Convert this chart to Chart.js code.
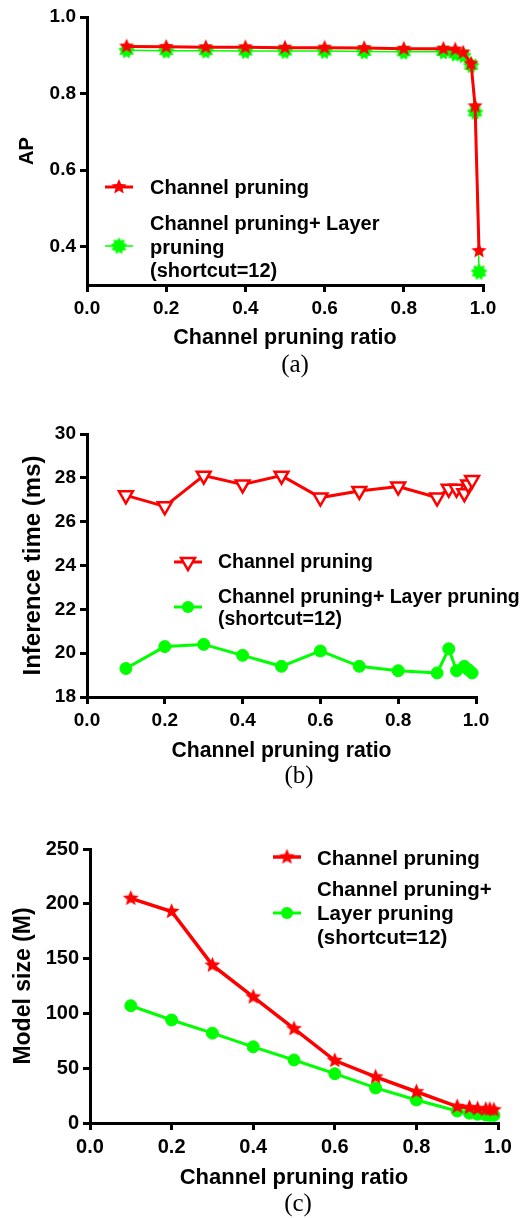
<!DOCTYPE html>
<html><head><meta charset="utf-8">
<script src="https://cdn.jsdelivr.net/npm/chart.js@4"></script>
<style>
html,body{margin:0;padding:0;background:#fff;}
#wrap{position:relative;width:529px;height:1218px;overflow:hidden;background:#fff;}
canvas.ch{position:absolute;left:0;}
canvas.lg{position:absolute;}
.t{position:absolute;font-family:'Liberation Sans',Arial,sans-serif;font-weight:bold;color:#000;white-space:nowrap;}
.cap{position:absolute;font-family:'Liberation Serif','Times New Roman',serif;color:#000;font-size:25px;line-height:25px;white-space:nowrap;transform:translateX(-50%);}
</style></head>
<body><div id="wrap"></div>
<script>
// ---- data ----
const ratios = [0.1,0.2,0.3,0.4,0.5,0.6,0.7,0.8,0.9,0.93,0.95,0.97,0.98,0.99];
const apChannel = [0.923,0.922,0.921,0.921,0.920,0.920,0.919,0.917,0.917,0.915,0.907,0.878,0.767,0.389];
const apLayer   = [0.913,0.912,0.912,0.911,0.911,0.911,0.910,0.909,0.910,0.904,0.900,0.874,0.752,0.334];
const timeChannel = [27.2,26.7,28.1,27.7,28.1,27.1,27.4,27.6,27.1,27.5,27.5,27.3,27.7,27.9];
const timeLayer   = [19.3,20.3,20.4,19.9,19.4,20.1,19.4,19.2,19.1,20.2,19.2,19.4,19.25,19.1];
const sizeChannel = [205,193,144,115,86,57,42,28.5,15,14,13,12.5,12.5,12];
const sizeLayer   = [107,94,82,69.5,57.5,45,32,21,11,9,8,7.3,7,7];
const ratioTicks = [0,0.2,0.4,0.6,0.8,1.0];
const apTicks = [0.4,0.6,0.8,1.0];
const timeTicks = [18,20,22,24,26,28,30];
const sizeTicks = [0,50,100,150,200,250];
const seriesNames = ['Channel pruning','Channel pruning+ Layer pruning (shortcut=12)'];
const xTitle = 'Channel pruning ratio';

const RED = '#ff0000', GREEN = '#00ff00';
const FONT = "'Liberation Sans', Arial, sans-serif";
const wrap = document.getElementById('wrap');

function starImg(color, R, r, n) {
  const c = document.createElement('canvas');
  const s = Math.ceil(2 * R + 2); c.width = s; c.height = s;
  const g = c.getContext('2d');
  g.fillStyle = color; g.beginPath();
  for (let i = 0; i < 2 * n; i++) {
    const rad = (i % 2) ? r : R;
    const a = -Math.PI / 2 + i * Math.PI / n;
    const px = s / 2 + rad * Math.cos(a), py = s / 2 + rad * Math.sin(a);
    if (i) g.lineTo(px, py); else g.moveTo(px, py);
  }
  g.closePath(); g.fill();
  return c;
}
const redStar = starImg(RED, 8, 3.6, 5);
const greenBurst = starImg(GREEN, 8.5, 5.8, 9);
const redStarC = starImg(RED, 8.3, 3.7, 5);

function pts(ys) { return ratios.map((x, i) => ({x: x, y: ys[i]})); }

function makeChart(cfg) {
  const cv = document.createElement('canvas');
  cv.className = 'ch';
  cv.width = 529; cv.height = cfg.height;
  cv.style.top = cfg.top + 'px';
  cv.style.width = '529px'; cv.style.height = cfg.height + 'px';
  wrap.appendChild(cv);
  const A = cfg.area;
  const axisCommon = {
    border: {display: true, color: '#000', width: 3},
    grid: {display: true, drawOnChartArea: false, drawTicks: true, tickLength: 7, tickWidth: 3, tickColor: '#000', color: '#000', lineWidth: 3}
  };
  new Chart(cv, {
    type: 'line',
    data: {datasets: cfg.datasets},
    options: {
      responsive: false, animation: false, devicePixelRatio: 1,
      layout: {padding: {left: 0, top: A.top - cfg.top, right: 529 - A.right, bottom: 0}},
      plugins: {legend: {display: false}, tooltip: {enabled: false}, title: {display: false}},
      elements: {line: {tension: 0}},
      scales: {
        x: Object.assign({}, axisCommon, {
          type: 'linear', min: 0, max: 1,
          afterBuildTicks: s => { s.ticks = ratioTicks.map(v => ({value: v})); },
          afterFit: s => { s.height = (cfg.top + cfg.height) - A.bottom; },
          ticks: {color: '#000', padding: 5, autoSkip: false, maxRotation: 0,
                  font: {family: FONT, weight: 'bold', size: cfg.tickSize},
                  callback: v => Number(v).toFixed(1)},
          title: {display: true, text: xTitle, color: '#000', padding: {top: 0, bottom: 0},
                  font: {family: FONT, weight: 'bold', size: cfg.xTitleSize}}
        }),
        y: Object.assign({}, axisCommon, {
          type: 'linear', min: cfg.yMin, max: cfg.yMax,
          afterBuildTicks: s => { s.ticks = cfg.yTicks.map(v => ({value: v})); },
          afterFit: s => { s.width = A.left; },
          ticks: {color: '#000', padding: 4, autoSkip: false,
                  font: {family: FONT, weight: 'bold', size: cfg.tickSize},
                  callback: cfg.yFmt},
          title: {display: true, text: cfg.yTitle, color: '#000', padding: {top: cfg.yTitlePad, bottom: 0},
                  font: {family: FONT, weight: 'bold', size: cfg.yTitleSize}}
        })
      }
    }
  });
}

// (a) AP
makeChart({
  top: 0, height: 351, area: {left: 87, top: 17, right: 483, bottom: 285},
  yMin: 0.3, yMax: 1.0, yTicks: apTicks, yFmt: v => Number(v).toFixed(1),
  yTitle: 'AP', yTitleSize: 20, yTitlePad: 15, xTitleSize: 21.5, tickSize: 19,
  datasets: [
    {label: seriesNames[0], data: pts(apChannel), borderColor: RED, borderWidth: 3, pointStyle: redStar, pointRadius: 7, clip: false},
    {label: seriesNames[1], data: pts(apLayer), borderColor: GREEN, borderWidth: 1.5, pointStyle: greenBurst, pointRadius: 7, clip: false}
  ]
});

// (b) Inference time
makeChart({
  top: 400, height: 364, area: {left: 87, top: 434, right: 476, bottom: 697},
  yMin: 18, yMax: 30, yTicks: timeTicks, yFmt: v => String(v),
  yTitle: 'Inference time (ms)', yTitleSize: 24, yTitlePad: 18.5, xTitleSize: 21.2, tickSize: 19,
  datasets: [
    {label: seriesNames[0], data: pts(timeChannel), borderColor: RED, borderWidth: 3, pointStyle: 'triangle', rotation: 180,
     pointRadius: 8, pointBorderWidth: 2.5, pointBorderColor: RED, pointBackgroundColor: '#fff', clip: false},
    {label: seriesNames[1], data: pts(timeLayer), borderColor: GREEN, borderWidth: 3, pointStyle: 'circle',
     pointRadius: 6, pointBorderWidth: 1, pointBorderColor: GREEN, pointBackgroundColor: GREEN, clip: false}
  ]
});

// (c) Model size
makeChart({
  top: 818, height: 373, area: {left: 90, top: 849, right: 498, bottom: 1123},
  yMin: 0, yMax: 250, yTicks: sizeTicks, yFmt: v => String(v),
  yTitle: 'Model size (M)', yTitleSize: 23, yTitlePad: 10, xTitleSize: 22, tickSize: 20,
  datasets: [
    {label: seriesNames[0], data: pts(sizeChannel), borderColor: RED, borderWidth: 3.5, pointStyle: redStarC, pointRadius: 7, clip: false},
    {label: seriesNames[1], data: pts(sizeLayer), borderColor: GREEN, borderWidth: 3, pointStyle: 'circle',
     pointRadius: 6, pointBorderWidth: 1, pointBorderColor: GREEN, pointBackgroundColor: GREEN, clip: false}
  ]
});

// ---- legends (HTML text + small sample canvases) ----
function sample(cx, cy, color, lw, drawMarker) {
  const c = document.createElement('canvas');
  c.className = 'lg'; c.width = 36; c.height = 24;
  c.style.left = (cx - 18) + 'px'; c.style.top = (cy - 12) + 'px';
  const g = c.getContext('2d');
  g.strokeStyle = color; g.lineWidth = lw;
  g.beginPath(); g.moveTo(4, 12); g.lineTo(32, 12); g.stroke();
  drawMarker(g, 18, 12);
  wrap.appendChild(c);
}
function imgMarker(img) { return (g, x, y) => g.drawImage(img, x - img.width / 2, y - img.height / 2); }
function triMarker(g, x, y) {
  const r = 8; g.beginPath();
  for (let i = 0; i < 3; i++) {
    const a = Math.PI / 2 + i * 2 * Math.PI / 3;
    const px = x + r * Math.cos(a), py = y - r * Math.sin(a) * -1;
    if (i) g.lineTo(px, py); else g.moveTo(px, py);
  }
  g.closePath(); g.fillStyle = '#fff'; g.fill(); g.strokeStyle = RED; g.lineWidth = 2.5; g.stroke();
}
function circMarker(g, x, y) { g.beginPath(); g.arc(x, y, 6, 0, Math.PI * 2); g.fillStyle = GREEN; g.fill(); }
function text(x, cy, size, str) {
  const d = document.createElement('div');
  d.className = 't'; d.textContent = str;
  d.style.fontSize = size + 'px'; d.style.lineHeight = (size * 1.2) + 'px';
  d.style.left = x + 'px'; d.style.top = (cy - size * 0.59) + 'px';
  wrap.appendChild(d);
}
function caption(cx, cy, str) {
  const d = document.createElement('div');
  d.className = 'cap'; d.textContent = str;
  d.style.left = cx + 'px'; d.style.top = (cy - 14.7) + 'px';
  wrap.appendChild(d);
}

// (a)
sample(119, 187, RED, 3, imgMarker(redStar));
sample(119, 246, GREEN, 1.5, imgMarker(greenBurst));
text(150, 187, 20, seriesNames[0]);
text(150, 223, 20, 'Channel pruning+ Layer');
text(150, 246.5, 20, 'pruning');
text(150, 270, 20, '(shortcut=12)');
caption(295, 366, '(a)');

// (b)
sample(188, 562, RED, 3, triMarker);
sample(188, 607, GREEN, 3, circMarker);
text(218, 562, 19.5, seriesNames[0]);
text(218, 597, 19.5, 'Channel pruning+ Layer pruning');
text(218, 619, 19.5, '(shortcut=12)');
caption(299, 777, '(b)');

// (c)
sample(287, 857, RED, 3.5, imgMarker(redStarC));
sample(287, 913, GREEN, 3, circMarker);
text(317, 858, 20.5, seriesNames[0]);
text(317, 889, 20.5, 'Channel pruning+');
text(317, 913.5, 20.5, 'Layer pruning');
text(317, 937, 20.5, '(shortcut=12)');
caption(298, 1205, '(c)');
</script>
</body></html>
